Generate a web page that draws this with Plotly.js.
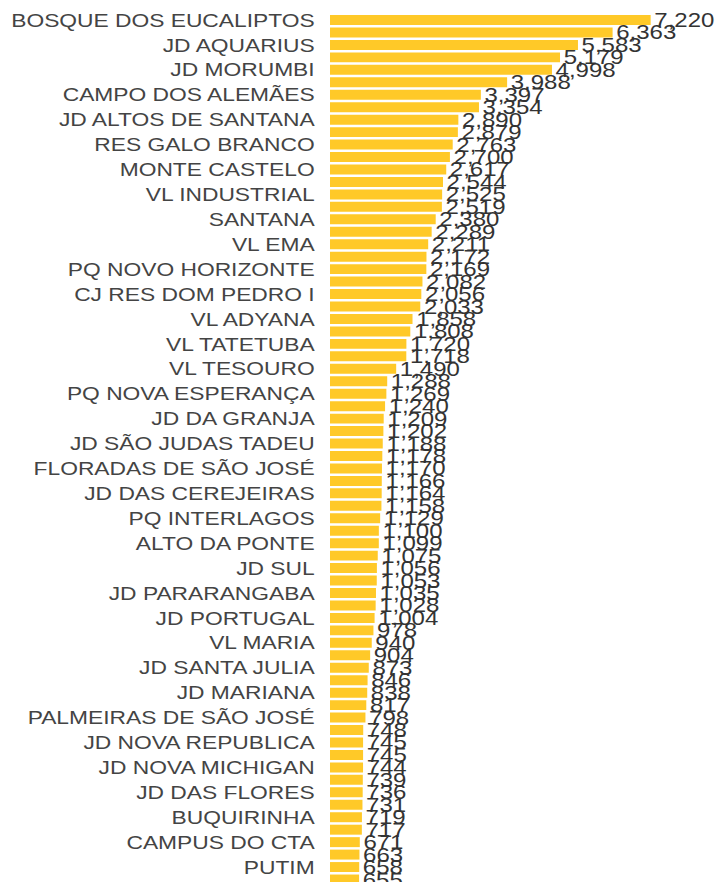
<!DOCTYPE html>
<html>
<head>
<meta charset="utf-8">
<script src="https://cdn.plot.ly/plotly-3.0.1.min.js"></script>
<style>
  html, body { margin: 0; padding: 0; background: #fff; overflow: hidden; }
  #chart { width: 597px; height: 882px; transform: scaleX(1.2); transform-origin: 0 0; }
</style>
</head>
<body>
<div id="chart"></div>
<script>
// Every other bar carries a tick label (odd positions, top to bottom)
const labels = [
  "BOSQUE DOS EUCALIPTOS", "JD AQUARIUS", "JD MORUMBI", "CAMPO DOS ALEMÃES",
  "JD ALTOS DE SANTANA", "RES GALO BRANCO", "MONTE CASTELO", "VL INDUSTRIAL",
  "SANTANA", "VL EMA", "PQ NOVO HORIZONTE", "CJ RES DOM PEDRO I",
  "VL ADYANA", "VL TATETUBA", "VL TESOURO", "PQ NOVA ESPERANÇA",
  "JD DA GRANJA", "JD SÃO JUDAS TADEU", "FLORADAS DE SÃO JOSÉ", "JD DAS CEREJEIRAS",
  "PQ INTERLAGOS", "ALTO DA PONTE", "JD SUL", "JD PARARANGABA",
  "JD PORTUGAL", "VL MARIA", "JD SANTA JULIA", "JD MARIANA",
  "PALMEIRAS DE SÃO JOSÉ", "JD NOVA REPUBLICA", "JD NOVA MICHIGAN", "JD DAS FLORES",
  "BUQUIRINHA", "CAMPUS DO CTA", "PUTIM"
];

const values = [
  7220, 6363, 5583, 5179, 4998, 3988, 3397, 3354, 2890, 2879,
  2763, 2700, 2617, 2544, 2525, 2519, 2380, 2289, 2211, 2172,
  2169, 2082, 2056, 2033, 1858, 1808, 1720, 1718, 1490, 1288,
  1269, 1240, 1209, 1202, 1188, 1178, 1170, 1166, 1164, 1158,
  1129, 1100, 1099, 1075, 1056, 1053, 1035, 1028, 1004, 978,
  940, 904, 873, 846, 838, 817, 798, 748, 745, 745,
  744, 739, 736, 731, 719, 717, 671, 663, 658, 655
];

const positions = values.map((v, i) => i);
const tickPositions = labels.map((l, i) => i * 2);

const trace = {
  type: "bar",
  orientation: "h",
  x: values,
  y: positions,
  marker: { color: "#ffc928" },
  texttemplate: "%{x:,}",
  textposition: "outside",
  textangle: 0,
  constraintext: "none",
  cliponaxis: false,
  textfont: { family: "Liberation Sans, Arial, sans-serif", size: 20, color: "#333333" },
  hoverinfo: "none"
};

const layout = {
  width: 597,
  height: 882,
  margin: { l: 275, r: 0, t: 0, b: 0, pad: 0 },
  paper_bgcolor: "#ffffff",
  plot_bgcolor: "#ffffff",
  showlegend: false,
  bargap: 0.2,
  font: { family: "Liberation Sans, Arial, sans-serif", size: 19, color: "#444444" },
  xaxis: {
    range: [0, 8700],
    showgrid: false,
    zeroline: false,
    showticklabels: false,
    ticks: "",
    showline: false
  },
  yaxis: {
    range: [69.2, -1.606],
    tickmode: "array",
    tickvals: tickPositions,
    ticktext: labels,
    showgrid: false,
    zeroline: false,
    showline: false,
    ticks: "outside",
    ticklen: 8,
    tickcolor: "rgba(0,0,0,0)",
    tickfont: { family: "Liberation Sans, Arial, sans-serif", size: 19, color: "#444444" }
  }
};

Plotly.newPlot("chart", [trace], layout, { staticPlot: true, displayModeBar: false });
</script>
</body>
</html>
